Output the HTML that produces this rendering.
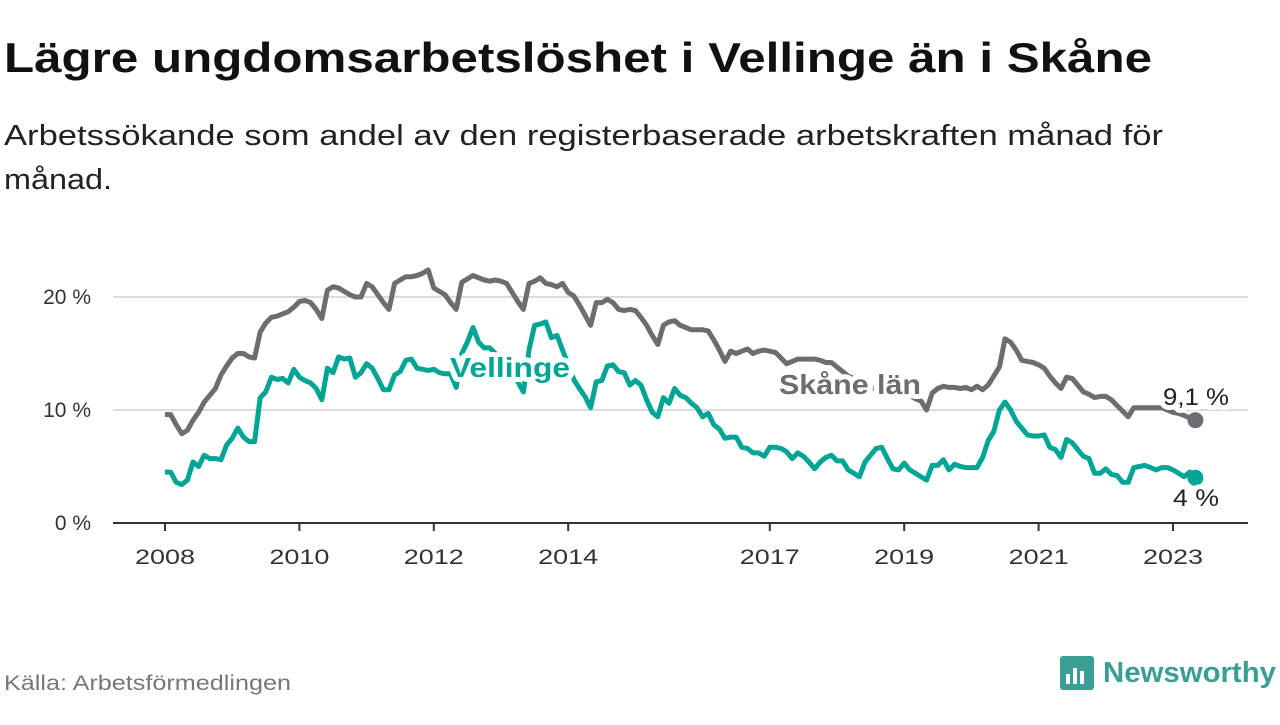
<!DOCTYPE html>
<html><head><meta charset="utf-8"><style>
body{margin:0;background:#fff;width:1280px;height:720px;overflow:hidden;font-family:"Liberation Sans",sans-serif;}
</style></head><body>
<svg width="1280" height="720" xmlns="http://www.w3.org/2000/svg">
<text x="4" y="72" font-size="42" font-weight="bold" fill="#111" textLength="1148" lengthAdjust="spacingAndGlyphs">Lägre ungdomsarbetslöshet i Vellinge än i Skåne</text>
<text x="4" y="145" font-size="29" fill="#222" textLength="1159" lengthAdjust="spacingAndGlyphs">Arbetssökande som andel av den registerbaserade arbetskraften månad för</text>
<text x="4" y="189" font-size="29" fill="#222" textLength="108" lengthAdjust="spacingAndGlyphs">månad.</text>
<g id="grid"></g><g id="lines"></g><g id="labels"></g>
<text x="4" y="690" font-size="21" fill="#777" textLength="287" lengthAdjust="spacingAndGlyphs">Källa: Arbetsförmedlingen</text>
<g>
<rect x="1060" y="656" width="34" height="34" rx="3" fill="#3a9e94"/>
<rect x="1066" y="674" width="4" height="10" fill="#fff"/><rect x="1073" y="668" width="4" height="16" fill="#fff"/><rect x="1080" y="671" width="4" height="13" fill="#fff"/>
<text x="1103" y="682" font-size="29" font-weight="bold" fill="#3a9e94" textLength="173" lengthAdjust="spacingAndGlyphs">Newsworthy</text>
</g>
</svg>
<script>
const years=[2008,2010,2012,2014,2017,2019,2021,2023];
const yTicks=[0,10,20];
const skane=[9.6,9.6,8.7,7.9,8.2,9.1,9.8,10.7,11.3,11.9,13.1,13.9,
14.6,15.0,15.0,14.7,14.6,16.9,17.7,18.2,18.3,18.5,18.7,19.1,
19.6,19.7,19.5,18.9,18.1,20.6,20.9,20.8,20.5,20.2,20.0,20.0,
21.2,20.9,20.2,19.5,18.9,21.2,21.5,21.8,21.8,21.9,22.1,22.4,
20.8,20.5,20.2,19.5,18.9,21.3,21.6,21.9,21.7,21.5,21.4,21.5,
21.4,21.2,20.4,19.6,18.9,21.2,21.4,21.7,21.2,21.1,20.9,21.2,
20.4,20.1,19.3,18.4,17.5,19.5,19.5,19.8,19.5,18.9,18.8,18.9,
18.8,18.2,17.5,16.6,15.8,17.5,17.8,17.9,17.5,17.3,17.1,17.1,
17.1,17.0,16.2,15.3,14.3,15.2,15.0,15.2,15.4,15.0,15.2,15.3,
15.2,15.1,14.6,14.1,14.3,14.5,14.5,14.5,14.5,14.4,14.2,14.2,
13.8,13.4,13.0,12.8,12.5,12.2,12.0,11.8,11.7,11.5,11.5,11.4,
11.4,11.3,11.0,10.8,10.0,11.5,11.9,12.1,12.0,12.0,11.9,12.0,
11.8,12.1,11.8,12.2,13.0,13.8,16.3,16.0,15.3,14.4,14.3,14.2,
14.0,13.7,13.0,12.4,11.9,12.9,12.8,12.2,11.6,11.4,11.1,11.2,
11.2,10.9,10.4,9.9,9.4,10.2,10.2,10.2,10.2,10.2,10.2,10.0,
9.8,9.7,9.5,9.3,9.1];
const vellinge=[4.5,4.5,3.6,3.4,3.8,5.4,5.0,6.0,5.7,5.7,5.6,6.9,
7.5,8.4,7.6,7.2,7.2,11.1,11.6,12.9,12.7,12.8,12.4,13.6,
12.9,12.6,12.4,11.9,10.9,13.7,13.3,14.7,14.5,14.6,12.9,13.3,
14.1,13.7,12.8,11.8,11.8,13.1,13.4,14.4,14.5,13.7,13.6,13.5,
13.6,13.3,13.2,13.2,12.0,15.0,16.0,17.3,16.0,15.5,15.5,15.0,
14.5,14.0,13.5,12.5,11.6,15.3,17.5,17.6,17.8,16.4,16.6,15.3,
14.0,12.7,11.9,11.2,10.2,12.5,12.6,13.9,14.0,13.4,13.3,12.2,
12.6,12.2,10.9,9.8,9.4,11.1,10.6,11.9,11.3,11.1,10.6,10.2,
9.4,9.7,8.7,8.3,7.5,7.6,7.6,6.7,6.6,6.2,6.2,5.9,
6.7,6.7,6.6,6.3,5.7,6.2,5.9,5.4,4.8,5.4,5.8,6.0,
5.5,5.5,4.7,4.4,4.1,5.4,6.0,6.6,6.7,5.7,4.8,4.7,
5.3,4.7,4.4,4.1,3.8,5.1,5.1,5.6,4.7,5.2,5.0,4.9,
4.9,4.9,5.8,7.3,8.1,10.0,10.7,10.0,9.0,8.4,7.8,7.7,
7.7,7.8,6.7,6.5,5.8,7.4,7.1,6.5,5.9,5.7,4.4,4.4,
4.8,4.3,4.2,3.6,3.6,4.9,5.0,5.1,4.9,4.7,4.9,4.9,
4.7,4.4,4.1,4.5,4.0];
const NS="http://www.w3.org/2000/svg";
const xOf=i=>165+i*5.6;
const xYear=y=>165+(y-2008)*67.2;
const yOf=v=>523-v*11.3;
function mk(t,a,p){const e=document.createElementNS(NS,t);for(const k in a)e.setAttribute(k,a[k]);p.appendChild(e);return e;}
const grid=document.getElementById('grid'),lines=document.getElementById('lines'),labels=document.getElementById('labels');
yTicks.forEach(v=>{
 if(v>0){const g=mk('line',{x1:113,x2:1248,y1:yOf(v),y2:yOf(v),stroke:'#dcdcdc','stroke-width':2},grid);
 
 }
 const t=mk('text',{x:91,y:yOf(v)+7,'font-size':21,fill:'#333','text-anchor':'end'},grid);t.textContent=v+' %';
 
 
});
const ax=mk('line',{x1:113,x2:1248,y1:523,y2:523,stroke:'#333','stroke-width':2},grid);


years.forEach(y=>{
 mk('line',{x1:xYear(y),x2:xYear(y),y1:523,y2:531,stroke:'#333','stroke-width':2},grid);
 const t=mk('text',{x:xYear(y),y:564,'font-size':21,fill:'#333','text-anchor':'middle',textLength:60,lengthAdjust:'spacingAndGlyphs'},grid);t.textContent=y;
 
 
});
function series(data,color,name){
 const d=data.map((v,i)=>(i?'L':'M')+xOf(i).toFixed(1)+','+yOf(v).toFixed(1)).join('');
 const p=mk('path',{d:d,fill:'none',stroke:color,'stroke-width':5,'stroke-linejoin':'round'},lines);
 
 
 const n=data.length-1;
 const c=mk('circle',{cx:xOf(n),cy:yOf(data[n]),r:8,fill:color},lines);
 
 
}
series(skane,'#6d6c72','skane');
series(vellinge,'#00a595','vellinge');
function lab(txt,x,y,col,size,bold,name,anchor,len){
 const a={x:x,y:y,'font-size':size,fill:col,'font-weight':bold?'bold':'normal','text-anchor':anchor||'start',stroke:'#fff','stroke-width':10,'paint-order':'stroke','stroke-linejoin':'round'};
 if(len){a.textLength=len;a.lengthAdjust='spacingAndGlyphs';}
 const t=mk('text',a,labels);
 t.textContent=txt;
 
 
}
lab('Vellinge',450,377,'#00a595',28,true,'vellinge-label','start',120);
lab('Skåne län',779,394,'#6d6c72',28,true,'skane-label','start',142);
lab('9,1 %',1196,405,'#222',24,false,'skane-last-value','middle',66);
lab('4 %',1196,506,'#222',24,false,'vellinge-last-value','middle',46);
</script>
</body></html>
